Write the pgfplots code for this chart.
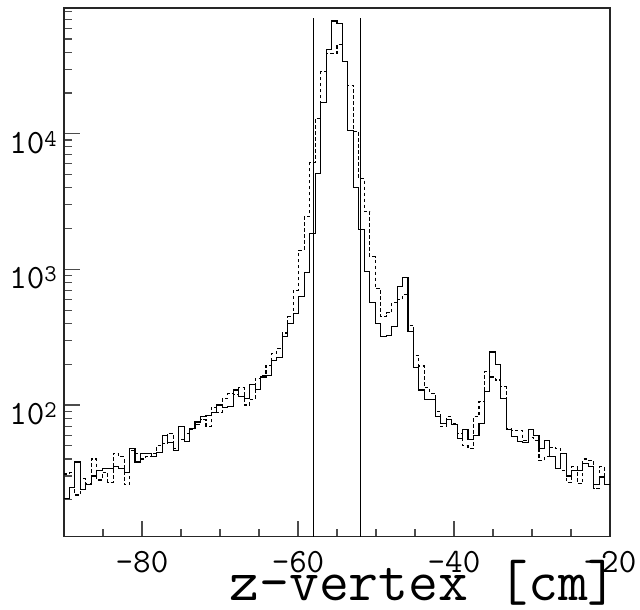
\documentclass[border=0pt]{standalone}
\usepackage{pgfplots}
\pgfplotsset{compat=1.18}
\usepackage{pgfplotstable}

\pgfplotstableread{
x s d
-90 20.5 31
-89.3 24.5 32
-88.6 38 21.7
-87.9 24 28.7
-87.2 26 26.4
-86.5 30 40
-85.8 33 28
-85.1 34 32
-84.4 34 27
-83.7 35 44
-83 34 41.5
-82.3 32 26
-81.6 48 46
-80.9 38 44
-80.2 44 40
-79.5 44 42
-78.8 42 44
-78.1 45 50
-77.4 60 52
-76.7 53 62
-76 46 48
-75.3 69 56
-74.6 54 62
-73.9 67 66
-73.2 75 72
-72.5 82 78
-71.8 84 70
-71.1 88 96
-70.4 100 88
-69.7 96 112
-69 98 122
-68.3 129 120
-67.6 115 134
-66.9 112 100
-66.2 142 110
-65.5 130 157
-64.8 161 165
-64.1 166 197
-63.4 214 240
-62.7 224 260
-62 318 340
-61.3 400 447
-60.6 474 703
-59.9 631 1387
-59.2 944 2443
-58.5 1843 6100
-57.8 5100 13000
-57.1 16900 28600
-56.4 41900 38900
-55.7 67800 38900
-55 65200 45700
-54.3 34300 34000
-53.6 10650 22800
-52.9 4000 10340
-52.2 1972 4680
-51.5 971 2690
-50.8 567 1240
-50.1 400 724
-49.4 322 447
-48.7 326 478
-48 378 567
-47.3 750 600
-46.6 870 650
-45.9 351 388
-45.2 190 233
-44.5 129 194
-43.8 110 134
-43.1 110 122
-42.4 82 89
-41.7 73 69
-41 78 82
-40.3 72 73
-39.6 57 62
-38.9 66 50
-38.2 56 48
-37.5 60 82
-36.8 73 106
-36.1 125 176
-35.4 246 161
-34.7 200 153
-34 112 136
-33.3 66 67
-32.6 59 65
-31.9 54 65
-31.2 53 55
-30.5 66 58
-29.8 60 55
-29.1 48 39
-28.4 55 41.5
-27.7 42 49
-27 34 48
-26.3 44 33
-25.6 30 27
-24.9 33 35
-24.2 33 26.4
-23.5 37 40
-22.8 35 39
-22.1 26 24.3
-21.4 29.5 35
-20.7 26 26
-20 26 26
}\hist

\begin{document}
\begin{tikzpicture}
\begin{axis}[
  scale only axis, width=546pt, height=528.7pt,
  xmin=-90, xmax=-20, ymode=log, ymin=10.7, ymax=84600,
  axis line style={line width=1.2pt, black!85},
  xtick={-80,-60,-40,-20}, xticklabels={-80,-60,-40,-20},
  minor xtick={-85,-75,-70,-65,-55,-50,-45,-35,-30,-25},
  ytick={100,1000,10000},
  minor ytick={20,30,40,50,60,70,80,90,200,300,400,500,600,700,800,900,2000,3000,4000,5000,6000,7000,8000,9000,20000,30000,40000,50000,60000,70000,80000},
  yticklabels={10\raisebox{7pt}{\fontsize{24}{24}\selectfont 2},10\raisebox{7pt}{\fontsize{24}{24}\selectfont 3},10\raisebox{7pt}{\fontsize{24}{24}\selectfont 4}},
  tick pos=left, tick align=inside,
  major tick length=16pt, minor tick length=8pt,
  tick style={line width=1.1pt, black!70},
  ticklabel style={font=\fontsize{34}{34}\selectfont\ttfamily, inner sep=0pt},
  xticklabel style={yshift=-14pt},
  yticklabel style={xshift=-7pt, yshift=-8.5pt},
  xlabel={z-vertex [cm]},
  xlabel style={font=\fontsize{58}{58}\selectfont\ttfamily, inner sep=0pt, at={(rel axis cs:1,0)}, anchor=base east, xshift=8pt, yshift=-64pt},
]
\addplot[const plot, black, line width=1.1pt, dash pattern=on 3.5pt off 2.5pt] table[x=x, y=d] {\hist};
\addplot[const plot, black, line width=1.1pt] table[x=x, y=s] {\hist};
\addplot[black, line width=1pt] coordinates {(-58,10.7) (-58,71000)};
\addplot[black, line width=1pt] coordinates {(-52,10.7) (-52,71000)};
\end{axis}
\pgfresetboundingbox
\path[use as bounding box] (current axis.south west) ++(-64pt,-73.3pt) rectangle ++(640pt,610pt);
\end{tikzpicture}
\end{document}
